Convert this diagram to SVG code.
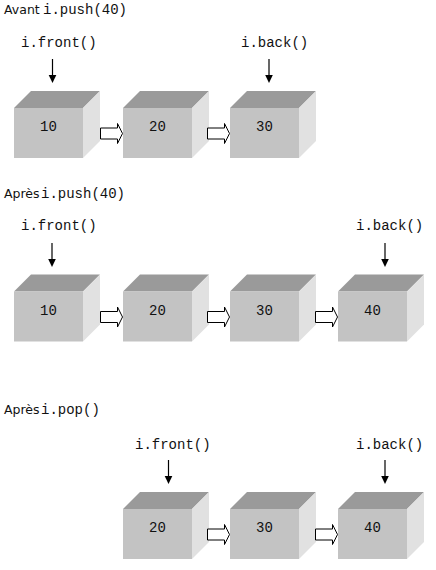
<svg xmlns="http://www.w3.org/2000/svg" xmlns:xlink="http://www.w3.org/1999/xlink" width="436" height="570" viewBox="0 0 436 570">
<style>
.title{font-family:"DejaVu Sans",Verdana,sans-serif;font-size:12.5px;fill:#111}
.code{font-family:"Liberation Mono","Courier New",monospace;font-size:14px;fill:#111}
.num{font-family:"Liberation Mono","Courier New",monospace;font-size:14px;fill:#111;text-anchor:middle}
.top{fill:#9a9a9a}
.front{fill:#c3c3c3}
.side{fill:#e1e1e1}
.link{fill:#fff;stroke:#000;stroke-width:1}
.ptr{stroke:#000;stroke-width:1.2;fill:none}
</style>
<defs>
<g id="box">
<polygon class="top" points="0,17 17,0 86,0 69,17"/>
<polygon class="side" points="69,17 86,0 86,50 69,67"/>
<rect class="front" x="0" y="17" width="69" height="50"/>
</g>
<path id="hollow" class="link" d="M0.5,-5.5 H17.5 V-10 L22.5,0 L17.5,10 V5.5 H0.5 Z"/>
<g id="down">
<line x1="0" y1="0" x2="0" y2="17" class="ptr"/>
<polygon points="-3.8,16 3.8,16 0,24" fill="#000"/>
</g>
</defs>

<!-- Row 1 -->
<text class="title" x="4" y="14">Avant<tspan class="code" x="43">i.push(40)</tspan></text>
<g id="row1-front-label"><text class="code" x="21" y="47">i.front()</text></g>
<g id="row1-back-label"><text class="code" x="241" y="47">i.back()</text></g>
<g id="r1n10"><use xlink:href="#box" x="14" y="91"/><text class="num" x="48.5" y="131">10</text></g>
<g id="r1n20"><use xlink:href="#box" x="123" y="91"/><text class="num" x="157.5" y="131">20</text></g>
<g id="r1n30"><use xlink:href="#box" x="230" y="91"/><text class="num" x="264.5" y="131">30</text></g>

<!-- Row 2 -->
<text class="title" x="4" y="198">Après<tspan class="code" x="41">i.push(40)</tspan></text>
<g id="row2-front-label"><text class="code" x="21" y="230">i.front()</text></g>
<g id="row2-back-label"><text class="code" x="356" y="230">i.back()</text></g>
<g id="r2n10"><use xlink:href="#box" x="14" y="274.5"/><text class="num" x="48.5" y="314.5">10</text></g>
<g id="r2n20"><use xlink:href="#box" x="123" y="274.5"/><text class="num" x="157.5" y="314.5">20</text></g>
<g id="r2n30"><use xlink:href="#box" x="230" y="274.5"/><text class="num" x="264.5" y="314.5">30</text></g>
<g id="r2n40"><use xlink:href="#box" x="338" y="274.5"/><text class="num" x="372.5" y="314.5">40</text></g>

<!-- Row 3 -->
<text class="title" x="4" y="414">Après<tspan class="code" x="41">i.pop()</tspan></text>
<g id="row3-front-label"><text class="code" x="135" y="449">i.front()</text></g>
<g id="row3-back-label"><text class="code" x="356" y="449">i.back()</text></g>
<g id="r3n20"><use xlink:href="#box" x="123" y="492"/><text class="num" x="157.5" y="532">20</text></g>
<g id="r3n30"><use xlink:href="#box" x="230" y="492"/><text class="num" x="264.5" y="532">30</text></g>
<g id="r3n40"><use xlink:href="#box" x="338" y="492"/><text class="num" x="372.5" y="532">40</text></g>

<g id="connectors">
<use xlink:href="#down" x="52.5" y="59"/>
<use xlink:href="#down" x="269" y="59"/>
<use xlink:href="#down" x="52" y="243"/>
<use xlink:href="#down" x="385" y="243"/>
<use xlink:href="#down" x="168.5" y="460"/>
<use xlink:href="#down" x="385" y="460"/>

<use xlink:href="#hollow" x="100" y="133.5"/>
<use xlink:href="#hollow" x="207" y="133.5"/>

<use xlink:href="#hollow" x="100" y="317"/>
<use xlink:href="#hollow" x="207" y="317"/>
<use xlink:href="#hollow" x="315" y="317"/>

<use xlink:href="#hollow" x="207" y="534.5"/>
<use xlink:href="#hollow" x="315" y="534.5"/>
</g>
</svg>
